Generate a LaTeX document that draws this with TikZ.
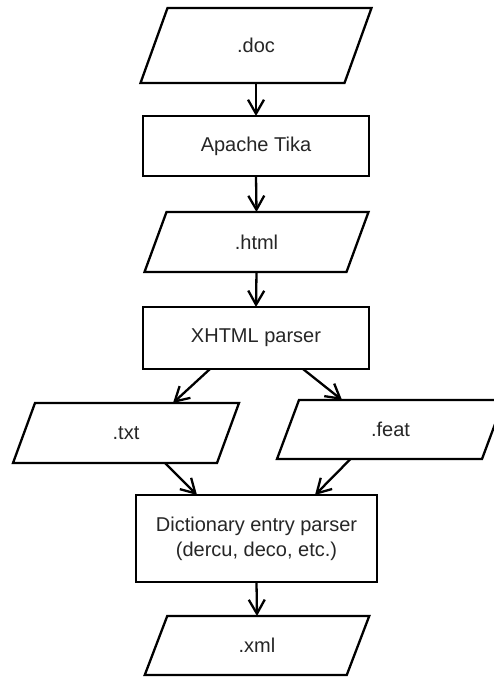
\documentclass[tikz,border=0pt]{standalone}
\usepackage{fontspec}
\setmainfont{Liberation Sans}
\usetikzlibrary{arrows.meta}

% draws the slanted outline (data symbol) around a named node
\newcommand\dataoutline[2]{%
  \draw[outline] ([xshift=#2]#1.north west) -- ([xshift=#2]#1.north east)
    -- ([xshift=-#2]#1.south east) -- ([xshift=-#2]#1.south west) -- cycle;}

\begin{document}
\begin{tikzpicture}[x=1pt,y=-1pt,
  label text/.style={inner sep=0pt, outer sep=0pt, align=center,
    font=\fontsize{20}{25}\selectfont, text=black!85},
  process/.style={label text, draw, line width=2.3pt},
  data/.style={label text},
  outline/.style={line width=2.3pt},
  flow/.style={line width=2.3pt, -{Straight Barb[length=14pt,width=16pt]}}]

\useasboundingbox (0,0) rectangle (494,677);
\fill[white] (0,0) rectangle (494,677);

% nodes
\node[data, minimum width=204, minimum height=75] (doc) at (256,45.5) {.doc};
\node[process, minimum width=226, minimum height=60] (tika) at (256,146) {Apache Tika};
\node[data, minimum width=202, minimum height=60] (html) at (256.5,242) {.html};
\node[process, minimum width=226, minimum height=62] (xhtml) at (256,338) {XHTML parser};
\node[data, minimum width=204, minimum height=60] (txt) at (126,433) {.txt};
\node[data, minimum width=205, minimum height=59] (feat) at (390.5,429.5) {.feat};
\node[process, minimum width=241, minimum height=87] (dict) at (256.5,538.5)
  {Dictionary entry parser\\(dercu, deco, etc.)};
\node[data, minimum width=202, minimum height=59] (xml) at (257,645.5) {.xml};

% slanted outlines of the data files
\dataoutline{doc}{13.5}
\dataoutline{html}{11}
\dataoutline{txt}{11}
\dataoutline{feat}{11}
\dataoutline{xml}{11.25}

% connectors
\draw[flow] (doc.south) -- (tika.north);
\draw[flow] (tika.south) -- (html.north);
\draw[flow] (html.south) -- (xhtml.north);
\draw[flow] ([xshift=-46]xhtml.south) -- ([xshift=47]txt.north);
\draw[flow] ([xshift=47]xhtml.south) -- ([xshift=-48.5]feat.north);
\draw[flow] ([xshift=39]txt.south) -- ([xshift=-59.5]dict.north);
\draw[flow] ([xshift=-40]feat.south) -- ([xshift=58.5]dict.north);
\draw[flow] (dict.south) -- (xml.north);
\end{tikzpicture}
\end{document}
